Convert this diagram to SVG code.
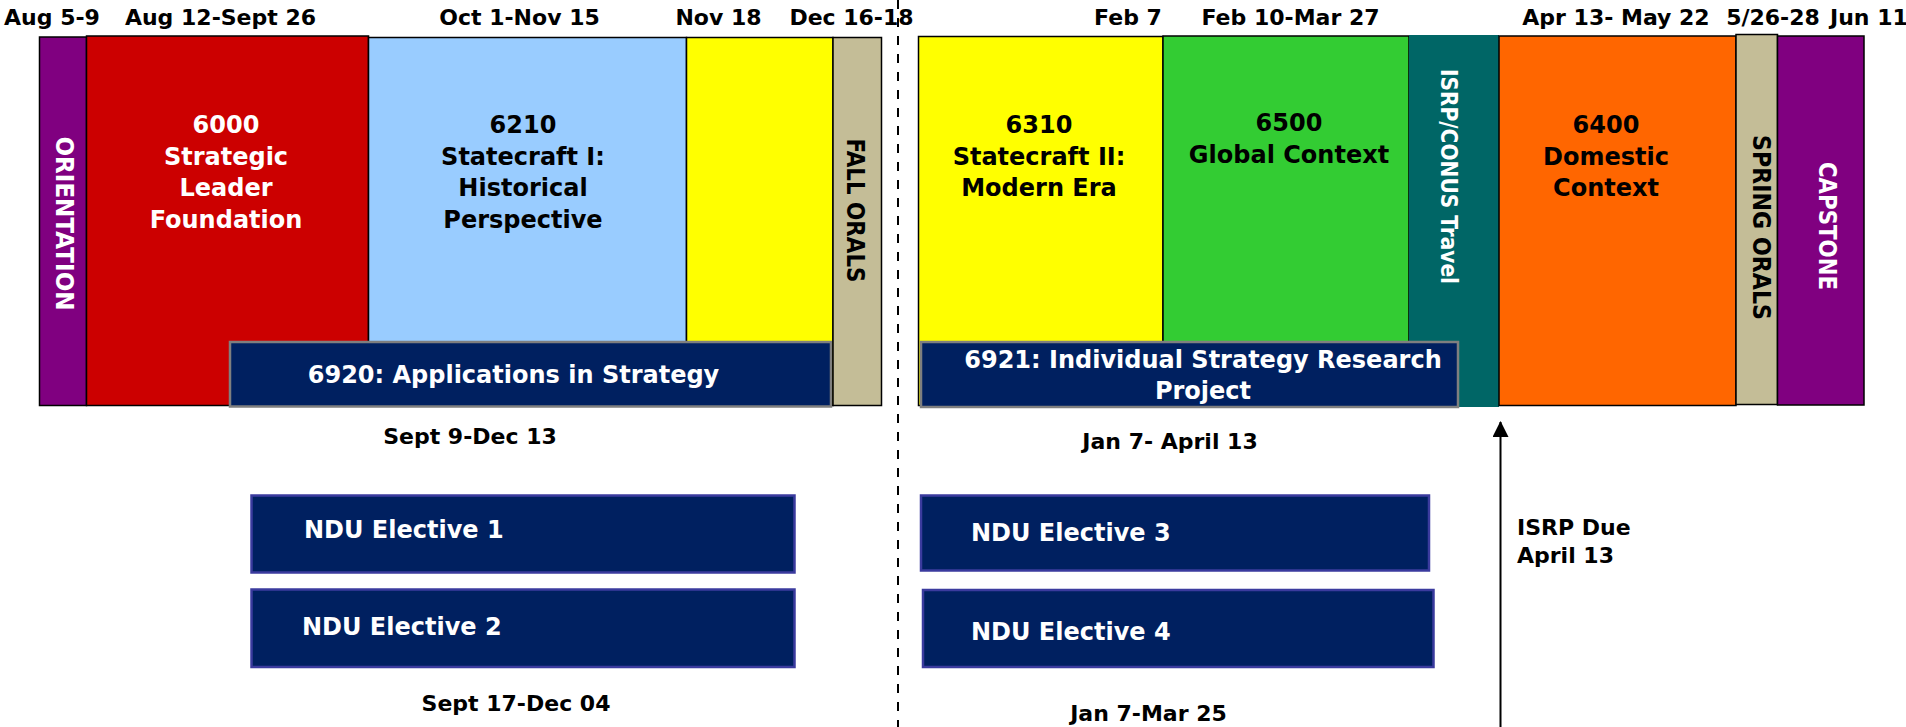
<svg xmlns="http://www.w3.org/2000/svg" width="1906" height="727" viewBox="0 0 1906 727">
<style>
text{font-family:"DejaVu Sans","Liberation Sans",sans-serif;font-weight:bold}
.hdr{font-size:22px;fill:#000;text-anchor:middle}
.big{font-size:24px;text-anchor:middle}
.w{fill:#fff}
.k{fill:#000}
.bar{stroke:#000;stroke-width:1.5}
.navy{fill:#002060}
.gb{stroke:#7f7f7f;stroke-width:2.5}
.eb{stroke:#3b3b9e;stroke-width:2.5}
.vt{font-size:25px;text-anchor:middle}
.lbl{font-size:22px;fill:#000}
</style>
<defs>
<marker id="ah" viewBox="0 0 16 16" refX="15" refY="8" markerWidth="16" markerHeight="16" markerUnits="userSpaceOnUse" orient="auto">
<path d="M0,0 L16,8 L0,16 Z" fill="#000"/>
</marker>
</defs>
<rect width="1906" height="727" fill="#fff"/>

<g id="headers">
<text class="hdr" x="52" y="25">Aug 5-9</text>
<text class="hdr" x="220.5" y="25">Aug 12-Sept 26</text>
<text class="hdr" x="519.5" y="25">Oct 1-Nov 15</text>
<text class="hdr" x="718.5" y="25">Nov 18</text>
<text class="hdr" x="851.5" y="25">Dec 16-18</text>
<text class="hdr" x="1128" y="25">Feb 7</text>
<text class="hdr" x="1290.5" y="25">Feb 10-Mar 27</text>
<text class="hdr" x="1616" y="25">Apr 13- May 22</text>
<text class="hdr" x="1773" y="25">5/26-28</text>
<text class="hdr" x="1830" y="25" style="text-anchor:start">Jun 11</text>
</g>

<g id="orientation">
<rect class="bar" x="39.5" y="37" width="47" height="368.5" fill="#800080"/>
<text class="vt w" transform="translate(55.5,223.5) rotate(90)" textLength="174" lengthAdjust="spacingAndGlyphs">ORIENTATION</text>
</g>

<g id="c6000">
<rect class="bar" x="86.5" y="36" width="282" height="369.5" fill="#cc0000"/>
<text class="big w" x="226" y="133">6000</text>
<text class="big w" x="226" y="164.5">Strategic</text>
<text class="big w" x="226" y="196">Leader</text>
<text class="big w" x="226" y="227.5">Foundation</text>
</g>

<g id="c6210">
<rect class="bar" x="368.5" y="37.5" width="318" height="368" fill="#99ccff"/>
<text class="big k" x="523" y="133">6210</text>
<text class="big k" x="523" y="164.5">Statecraft I:</text>
<text class="big k" x="523" y="196">Historical</text>
<text class="big k" x="523" y="227.5">Perspective</text>
</g>

<g id="nov18">
<rect class="bar" x="686.5" y="37.5" width="146.5" height="368" fill="#ffff00"/>
</g>

<g id="c6920">
<rect class="navy gb" x="230" y="342" width="601" height="64.5"/>
<text class="big w" x="513.5" y="383">6920: Applications in Strategy</text>
</g>

<g id="fallorals">
<rect class="bar" x="833" y="37.5" width="48.5" height="368" fill="#c4bd97"/>
<text class="vt k" transform="translate(846.5,210.5) rotate(90)" textLength="144" lengthAdjust="spacingAndGlyphs">FALL ORALS</text>
</g>

<g id="c6310">
<rect class="bar" x="918.5" y="36.5" width="244.5" height="369" fill="#ffff00"/>
<text class="big k" x="1039" y="133">6310</text>
<text class="big k" x="1039" y="164.5">Statecraft II:</text>
<text class="big k" x="1039" y="196">Modern Era</text>
</g>

<g id="c6500">
<rect class="bar" x="1163" y="36" width="246" height="369.5" fill="#33cc33"/>
<text class="big k" x="1289" y="130.5">6500</text>
<text class="big k" x="1289" y="162.5">Global Context</text>
</g>

<g id="isrptravel">
<rect x="1409" y="35" width="90" height="372" fill="#006666"/>
<text class="vt w" style="font-size:23px" transform="translate(1441,176.5) rotate(90)" textLength="215" lengthAdjust="spacingAndGlyphs">ISRP/CONUS Travel</text>
</g>

<g id="c6921">
<rect class="navy gb" x="921" y="342" width="537" height="65"/>
<text class="big w" x="1203" y="368">6921: Individual Strategy Research</text>
<text class="big w" x="1203" y="398.5">Project</text>
</g>

<g id="c6400">
<rect class="bar" x="1499" y="36" width="237" height="369.5" fill="#ff6600"/>
<text class="big k" x="1606" y="133">6400</text>
<text class="big k" x="1606" y="164.5">Domestic</text>
<text class="big k" x="1606" y="196">Context</text>
</g>

<g id="springorals">
<rect class="bar" x="1736" y="34.5" width="41.5" height="370" fill="#c4bd97"/>
<text class="vt k" transform="translate(1752.5,227.5) rotate(90)" textLength="185" lengthAdjust="spacingAndGlyphs">SPRING ORALS</text>
</g>

<g id="capstone">
<rect class="bar" x="1777.5" y="36" width="86.5" height="369" fill="#800080"/>
<text class="vt w" transform="translate(1819,226) rotate(90)" textLength="128" lengthAdjust="spacingAndGlyphs">CAPSTONE</text>
</g>

<g id="dates-fall">
<text class="lbl" x="470" y="443.5" text-anchor="middle">Sept 9-Dec 13</text>
<text class="lbl" x="516" y="711" text-anchor="middle">Sept 17-Dec 04</text>
</g>

<g id="elective1">
<rect class="navy eb" x="251.5" y="495.5" width="543" height="77"/>
<text class="big w" x="304" y="537.5" style="text-anchor:start">NDU Elective 1</text>
</g>
<g id="elective2">
<rect class="navy eb" x="251.5" y="589.5" width="543" height="77.5"/>
<text class="big w" x="302" y="635" style="text-anchor:start">NDU Elective 2</text>
</g>

<g id="dates-spring">
<text class="lbl" x="1170" y="448.5" text-anchor="middle">Jan 7- April 13</text>
<text class="lbl" x="1148.5" y="720.5" text-anchor="middle">Jan 7-Mar 25</text>
</g>

<g id="elective3">
<rect class="navy eb" x="921" y="495.5" width="508" height="75"/>
<text class="big w" x="971" y="540.5" style="text-anchor:start">NDU Elective 3</text>
</g>
<g id="elective4">
<rect class="navy eb" x="923" y="590" width="510.5" height="77"/>
<text class="big w" x="971" y="640" style="text-anchor:start">NDU Elective 4</text>
</g>

<g id="isrpdue">
<text class="lbl" x="1517" y="535">ISRP Due</text>
<text class="lbl" x="1517" y="563">April 13</text>
</g>

<g id="connectors">
<line x1="898" y1="0" x2="898" y2="727" stroke="#000" stroke-width="2" stroke-dasharray="9 9"/>
<line x1="1500.5" y1="727" x2="1500.5" y2="422" stroke="#000" stroke-width="2" marker-end="url(#ah)"/>
</g>
</svg>
